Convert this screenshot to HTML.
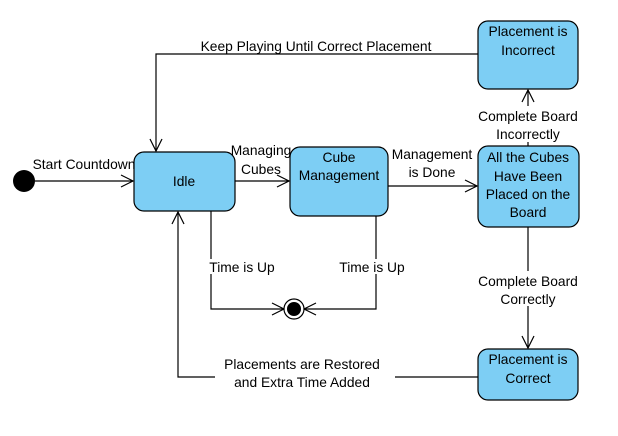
<!DOCTYPE html>
<html><head><style>body{margin:0;background:#fff}</style></head><body>
<svg width="618" height="431" xmlns="http://www.w3.org/2000/svg" font-family="Liberation Sans, sans-serif" font-size="13.8" fill="#000">
<g stroke="#000" stroke-width="1.2" fill="none">
<line x1="35" y1="181" x2="133" y2="181"/><polyline points="121,175 133,181 121,187"/>
<line x1="235" y1="181" x2="289" y2="181"/><polyline points="277,175 289,181 277,187"/>
<line x1="388" y1="186" x2="477" y2="186"/><polyline points="465,180 477,186 465,192"/>
<polyline points="478,54 156,54 156,151"/><polyline points="150,139 156,151 162,139"/>
<polyline points="478,377 178,377 178,212"/><polyline points="172,224 178,212 184,224"/>
<polyline points="211,211 211,309 284,309"/><polyline points="272,303 284,309 272,315"/>
<polyline points="376,216 376,309 304,309"/><polyline points="316,303 304,309 316,315"/>
<line x1="528" y1="227" x2="528" y2="348"/><polyline points="522,336 528,348 534,336"/>
<line x1="528" y1="146" x2="528" y2="90"/><polyline points="522,102 528,90 534,102"/>
</g>
<circle cx="24" cy="181" r="11"/>
<circle cx="294" cy="309" r="10" fill="#fff" stroke="#000" stroke-width="1.2"/>
<circle cx="294" cy="309" r="7"/>
<g fill="#7dcef4" stroke="#000" stroke-width="1.2">
<rect x="134" y="152" width="101" height="59" rx="10"/>
<rect x="290" y="147" width="98" height="69" rx="10"/>
<rect x="478" y="146" width="101" height="81" rx="10"/>
<rect x="478" y="21" width="100" height="68" rx="10"/>
<rect x="478" y="349" width="100" height="51" rx="10"/>
</g>
<g fill="#fff">
<rect x="190" y="38" width="255" height="15"/>
<rect x="215" y="355" width="180" height="35"/>
<rect x="206" y="259" width="74" height="15"/>
<rect x="335" y="259" width="74" height="15"/>
<rect x="472" y="271" width="112" height="35"/>
<rect x="472" y="106" width="112" height="36"/>
</g>
<g text-anchor="middle">
<text x="184" y="186">Idle</text>
<text x="339" y="162">Cube</text><text x="339" y="180">Management</text>
<text x="528" y="162">All the Cubes</text><text x="528" y="181">Have Been</text><text x="528" y="199">Placed on the</text><text x="528" y="217">Board</text>
<text x="528" y="36">Placement is</text><text x="528" y="55">Incorrect</text>
<text x="528" y="364">Placement is</text><text x="528" y="383">Correct</text>
<text x="84" y="169">Start Countdown</text>
<text x="261" y="155">Managing</text><text x="261" y="174">Cubes</text>
<text x="432" y="159">Management</text><text x="432" y="177">is Done</text>
<text x="316" y="51">Keep Playing Until Correct Placement</text>
<text x="302" y="369">Placements are Restored</text><text x="302" y="387">and Extra Time Added</text>
<text x="242" y="272">Time is Up</text>
<text x="372" y="272">Time is Up</text>
<text x="528" y="286">Complete Board</text><text x="528" y="304">Correctly</text>
<text x="528" y="121">Complete Board</text><text x="528" y="139">Incorrectly</text>
</g>
</svg>
</body></html>
